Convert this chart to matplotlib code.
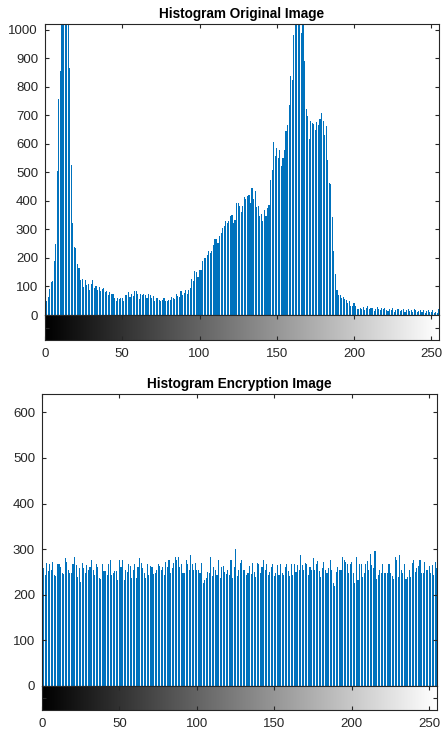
import numpy as np
import matplotlib
matplotlib.use('Agg')
import matplotlib.pyplot as plt

plt.rcParams['font.family'] = ['Liberation Sans', 'DejaVu Sans']

# gray levels 0..255
levels = np.arange(256)

# histogram of the original image (counts per gray level)
orig_counts = [
    164, 49, 63, 90, 116, 119, 189, 249, 505, 758,
    856, 1100, 1250, 1300, 1200, 1080, 867, 526, 323, 239,
    235, 179, 165, 123, 126, 98, 123, 105, 109, 88,
    109, 123, 95, 102, 88, 98, 84, 91, 95, 81,
    84, 70, 81, 74, 74, 60, 49, 60, 55, 58,
    61, 49, 70, 70, 81, 63, 74, 67, 84, 84,
    74, 56, 74, 70, 74, 70, 60, 74, 70, 60,
    67, 49, 60, 60, 53, 49, 53, 60, 49, 49,
    53, 53, 63, 60, 56, 74, 67, 63, 84, 70,
    77, 88, 74, 88, 95, 126, 119, 154, 151, 133,
    158, 158, 189, 200, 200, 211, 225, 218, 225, 246,
    267, 267, 253, 277, 288, 305, 312, 330, 323, 330,
    347, 351, 323, 333, 393, 393, 383, 361, 383, 414,
    407, 418, 421, 393, 446, 407, 435, 379, 383, 347,
    354, 330, 368, 347, 375, 386, 474, 509, 607, 558,
    586, 551, 579, 523, 551, 579, 646, 667, 737, 839,
    825, 982, 1080, 1150, 1120, 1060, 989, 1040, 891, 723,
    698, 618, 681, 674, 670, 649, 677, 667, 688, 709,
    681, 632, 663, 544, 463, 460, 344, 225, 144, 88,
    70, 70, 60, 63, 56, 53, 42, 49, 32, 32,
    42, 32, 21, 21, 25, 22, 28, 18, 25, 30,
    20, 26, 24, 15, 22, 28, 20, 18, 24, 22,
    26, 16, 14, 20, 18, 24, 12, 16, 20, 22,
    14, 18, 20, 10, 16, 22, 14, 18, 12, 20,
    16, 10, 14, 18, 12, 16, 8, 14, 18, 10,
    12, 16, 8, 12, 6, 20,
]

# histogram of the encrypted image
enc_counts = [
    270, 258, 243, 270, 253, 267, 254, 272, 243, 241,
    268, 267, 261, 247, 245, 280, 272, 255, 247, 248,
    268, 282, 265, 239, 258, 228, 270, 258, 248, 265,
    254, 260, 276, 255, 243, 268, 261, 236, 234, 268,
    252, 252, 243, 267, 277, 243, 247, 252, 252, 232,
    276, 261, 276, 232, 255, 250, 268, 263, 236, 254,
    267, 236, 261, 280, 270, 258, 247, 236, 268, 243,
    264, 260, 245, 247, 255, 268, 264, 254, 260, 243,
    272, 261, 276, 247, 258, 270, 282, 276, 282, 261,
    268, 248, 248, 277, 268, 255, 287, 267, 255, 270,
    255, 255, 247, 270, 226, 232, 236, 250, 248, 283,
    241, 261, 254, 243, 277, 236, 261, 264, 250, 246,
    254, 243, 277, 236, 261, 300, 241, 254, 270, 277,
    255, 255, 243, 247, 263, 245, 270, 250, 238, 270,
    268, 247, 261, 276, 254, 268, 243, 250, 261, 268,
    241, 248, 265, 243, 268, 247, 243, 261, 267, 253,
    241, 268, 243, 268, 250, 265, 254, 287, 265, 254,
    270, 267, 243, 261, 254, 280, 255, 267, 274, 253,
    238, 258, 272, 255, 247, 258, 276, 254, 225, 219,
    250, 260, 255, 254, 283, 277, 272, 268, 248, 268,
    272, 247, 226, 282, 232, 268, 268, 239, 248, 268,
    274, 255, 290, 265, 259, 296, 234, 243, 254, 247,
    267, 248, 247, 247, 267, 247, 241, 234, 282, 277,
    238, 287, 254, 248, 268, 234, 238, 255, 239, 270,
    277, 250, 258, 263, 276, 247, 248, 272, 255, 254,
    262, 248, 266, 243, 272, 258,
]

titles = ['Histogram Original Image', 'Histogram Encryption Image']
y_limits = [1020, 640]
y_steps = [100, 100]
x_ticks = [0, 50, 100, 150, 200, 250]

dark = '#262626'
bar_color = '#0072BD'

W, H = 443, 735
fig = plt.figure(figsize=(W / 100, H / 100), dpi=100)

# panel boxes in pixels: left, right, top of bars, bottom of bars, bottom of strip
boxes = [(45, 439, 24, 315, 340), (42, 437, 394, 686, 710)]


def frac(l, r, t, b):
    return [l / W, 1 - b / H, (r - l) / W, (b - t) / H]


gradient = np.arange(256).reshape(1, -1)

for counts, title, ytop, ystep, (l, r, t, b, cb) in zip(
        [orig_counts, enc_counts], titles, y_limits, y_steps, boxes):
    ax = fig.add_axes(frac(l, r, t, b))
    ax.bar(levels, counts, width=0.72, color=bar_color, linewidth=0)
    ax.set_xlim(0, 255)
    ax.set_ylim(0, ytop)
    ax.set_yticks(np.arange(0, ytop + 1, ystep))
    ax.set_xticks(x_ticks)
    ax.tick_params(axis='x', direction='in', top=True, bottom=False,
                   labelbottom=False, length=3, width=0.8, color=dark)
    ax.tick_params(axis='y', direction='in', left=True, right=True,
                   length=3, width=0.8, color=dark, labelsize=9.5,
                   labelcolor=dark, pad=5)
    for s in ax.spines.values():
        s.set_color(dark)
        s.set_linewidth(0.8)
    ax.set_title(title, fontsize=9.8, fontweight='bold', pad=4)

    # gray level strip under the bars
    cax = fig.add_axes(frac(l, r, b, cb))
    cax.imshow(gradient, cmap='gray', aspect='auto',
               extent=[0, 255, 0, 1], interpolation='bilinear')
    cax.set_xlim(0, 255)
    cax.set_ylim(0, 1)
    cax.set_xticks(x_ticks)
    cax.set_yticks([0.5])
    cax.set_yticklabels([])
    cax.tick_params(axis='x', direction='in', top=True, bottom=True,
                    length=3, width=0.8, color=dark, labelsize=9.5,
                    labelcolor=dark, pad=6)
    cax.tick_params(axis='y', direction='in', left=True, right=True,
                    length=3, width=0.8, color=dark)
    for s in cax.spines.values():
        s.set_color(dark)
        s.set_linewidth(0.8)

fig.savefig('out.png', dpi=100)
